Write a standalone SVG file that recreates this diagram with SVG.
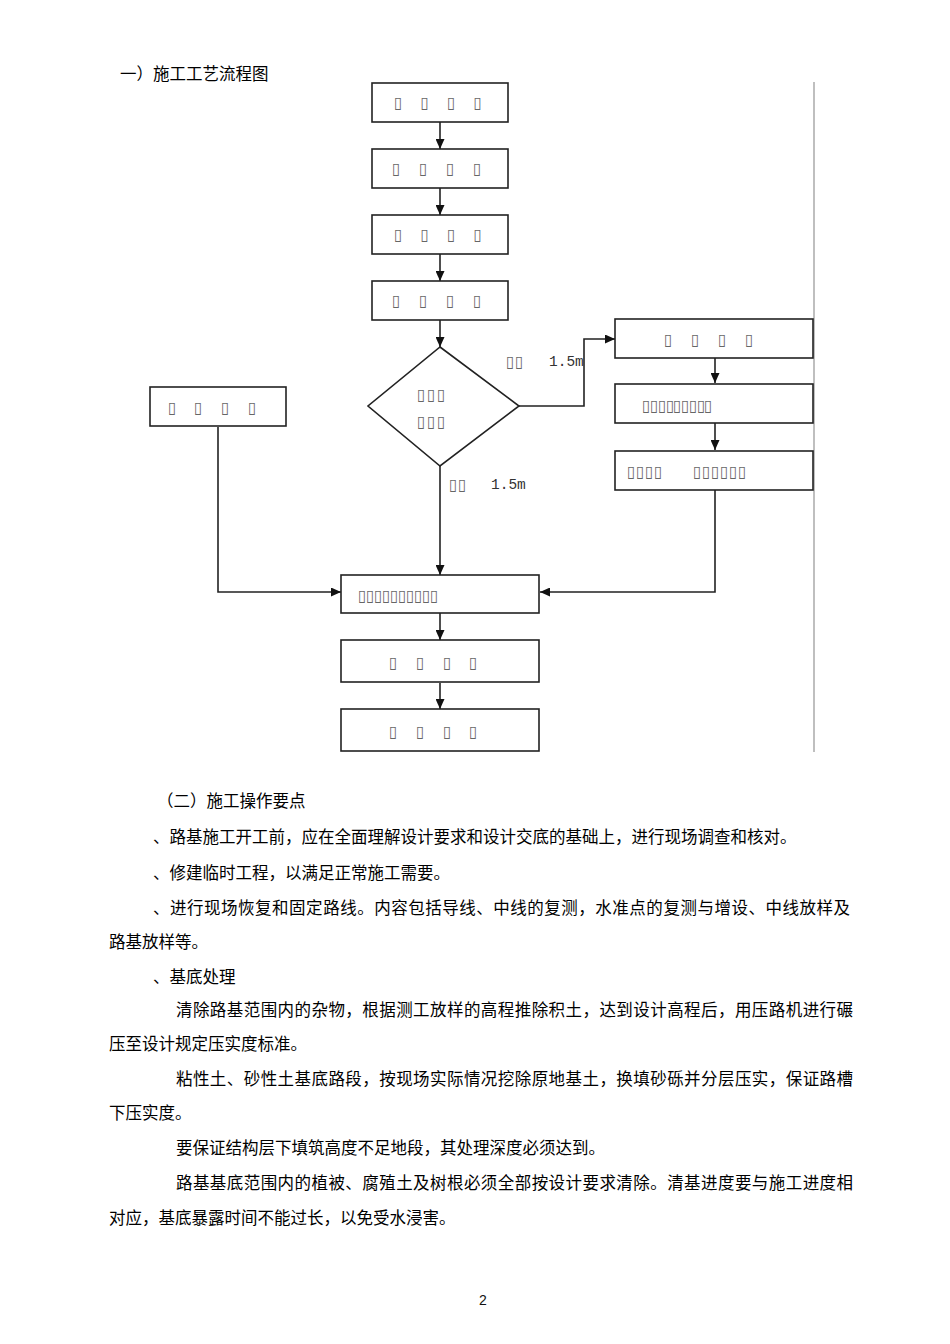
<svg xmlns="http://www.w3.org/2000/svg" width="950" height="1344" viewBox="0 0 950 1344">
<defs>
<marker id="arr" markerUnits="userSpaceOnUse" markerWidth="10" markerHeight="9" refX="10" refY="4.5" orient="auto">
<path d="M0,0 L10,4.5 L0,9 z" fill="#111"/>
</marker>
<style>
.box{fill:#fff;stroke:#222;stroke-width:1.6}
.edge{fill:none;stroke:#222;stroke-width:1.6;marker-end:url(#arr)}
.tf{font-family:"DejaVu Sans Condensed","DejaVu Sans",sans-serif;font-size:16px;fill:#666;text-anchor:middle}
.lbl{font-family:"Liberation Mono",monospace;font-size:14.5px;fill:#333}
.body{font-family:"Noto Sans CJK SC","Noto Sans CJK JP",sans-serif;font-size:16.5px;fill:#000}
</style>
</defs>
<rect width="950" height="1344" fill="#fff"/>
<text class="body" x="120" y="80">一）施工工艺流程图</text>
<line x1="814" y1="82" x2="814" y2="752" stroke="#aaa" stroke-width="1.5"/>
<g id="connectors">
<path class="edge" d="M440,122 V149"/>
<path class="edge" d="M440,188 V215"/>
<path class="edge" d="M440,254 V281"/>
<path class="edge" d="M440,320 V347"/>
<path class="edge" d="M519,406 H584 V339 H615"/>
<path class="edge" d="M715,358 V383"/>
<path class="edge" d="M715,423 V450"/>
<path class="edge" d="M715,489 V592 H540"/>
<path class="edge" d="M218,427 V592 H341"/>
<path class="edge" d="M440,466 V575"/>
<path class="edge" d="M440,613 V640"/>
<path class="edge" d="M440,683 V709"/>
<text class="tf" x="510 519" y="367">▯▯</text>
<text class="lbl" x="549" y="366">1.5m</text>
<text class="tf" x="453 462" y="490">▯▯</text>
<text class="lbl" x="491" y="489">1.5m</text>
</g>
<g id="n1"><rect class="box" x="372" y="83" width="136" height="39"/><text class="tf" x="398 424.5 451 477.5" y="108">▯▯▯▯</text></g>
<g id="n2"><rect class="box" x="372" y="149" width="136" height="39"/><text class="tf" x="396 423 450 477" y="174">▯▯▯▯</text></g>
<g id="n3"><rect class="box" x="372" y="215" width="136" height="39"/><text class="tf" x="398 424.5 451 477.5" y="240">▯▯▯▯</text></g>
<g id="n4"><rect class="box" x="372" y="281" width="136" height="39"/><text class="tf" x="396 423 450 477" y="306">▯▯▯▯</text></g>
<g id="decision"><path class="box" d="M440,347 L519,406 L440,466 L368,406 z"/><text class="tf" x="421 431 441" y="400">▯▯▯</text><text class="tf" x="421 431 441" y="427">▯▯▯</text></g>
<g id="nA"><rect class="box" x="615" y="319" width="198" height="39"/><text class="tf" x="668 695 722 749" y="345">▯▯▯▯</text></g>
<g id="nB"><rect class="box" x="615" y="384" width="198" height="39"/><text class="tf" x="646 654 662 670 677 685 693 701 708" y="411">▯▯▯▯▯▯▯▯▯</text></g>
<g id="nC"><rect class="box" x="615" y="451" width="198" height="39"/><text class="tf" x="631 640 649 658 697 706 715 724 733 742" y="477">▯▯▯▯▯▯▯▯▯▯</text></g>
<g id="nL"><rect class="box" x="150" y="387" width="136" height="39"/><text class="tf" x="172 198 225 252" y="413">▯▯▯▯</text></g>
<g id="nD"><rect class="box" x="341" y="575" width="198" height="38"/><text class="tf" x="362 370 378 386 394 402 410 418 426 434" y="601">▯▯▯▯▯▯▯▯▯▯</text></g>
<g id="nE"><rect class="box" x="341" y="640" width="198" height="42"/><text class="tf" x="393 420 447 473" y="668">▯▯▯▯</text></g>
<g id="nF"><rect class="box" x="341" y="709" width="198" height="42"/><text class="tf" x="393 420 447 473" y="737">▯▯▯▯</text></g>
<g id="body">
<text class="body" x="157" y="807">（二）施工操作要点</text>
<text class="body" x="153" y="843">、路基施工开工前，应在全面理解设计要求和设计交底的基础上，进行现场调查和核对。</text>
<text class="body" x="153" y="879">、修建临时工程，以满足正常施工需要。</text>
<text class="body" x="153" y="914" textLength="697" lengthAdjust="spacing">、进行现场恢复和固定路线。内容包括导线、中线的复测，水准点的复测与增设、中线放样及</text>
<text class="body" x="109" y="948">路基放样等。</text>
<text class="body" x="153" y="983">、基底处理</text>
<text class="body" x="176" y="1016" textLength="677" lengthAdjust="spacing">清除路基范围内的杂物，根据测工放样的高程推除积土，达到设计高程后，用压路机进行碾</text>
<text class="body" x="109" y="1050">压至设计规定压实度标准。</text>
<text class="body" x="176" y="1085" textLength="677" lengthAdjust="spacing">粘性土、砂性土基底路段，按现场实际情况挖除原地基土，换填砂砾并分层压实，保证路槽</text>
<text class="body" x="109" y="1119">下压实度。</text>
<text class="body" x="176" y="1154">要保证结构层下填筑高度不足地段，其处理深度必须达到。</text>
<text class="body" x="176" y="1189" textLength="677" lengthAdjust="spacing">路基基底范围内的植被、腐殖土及树根必须全部按设计要求清除。清基进度要与施工进度相</text>
<text class="body" x="109" y="1224">对应，基底暴露时间不能过长，以免受水浸害。</text>
<text x="483" y="1305" font-family="Liberation Sans,sans-serif" font-size="14" fill="#111" text-anchor="middle">2</text>
</g>
</svg>
